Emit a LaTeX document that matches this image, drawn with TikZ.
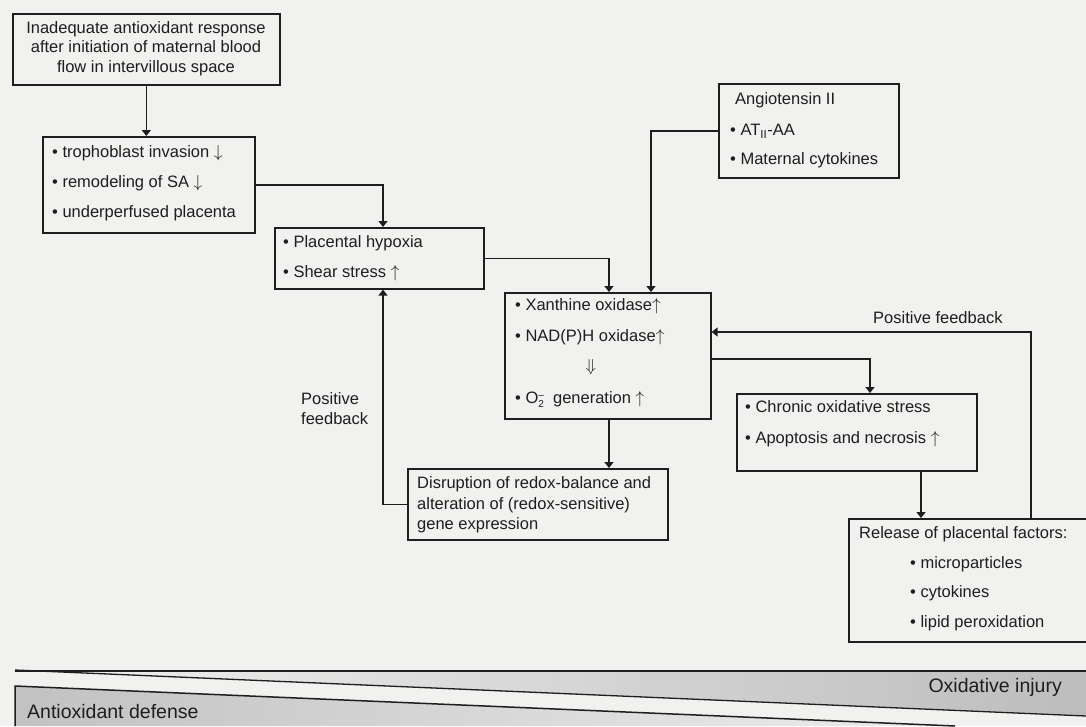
\documentclass[tikz,border=0pt]{standalone}
\usepackage{fontspec}
\setmainfont{Liberation Sans}
\usetikzlibrary{arrows.meta}
\definecolor{bg}{RGB}{241,241,240}
\definecolor{ink}{RGB}{30,30,30}
\newcommand{\fs}{\fontsize{16.5}{20}\selectfont}
\newcommand{\upa}{$\uparrow$}
\newcommand{\dna}{$\downarrow$}
\newcommand{\Otwo}{O\makebox[0pt][l]{\raisebox{-3.5pt}{\fontsize{10}{10}\selectfont 2}}\raisebox{5.5pt}{\fontsize{10}{10}\selectfont --}}
\tikzset{
  box/.style={draw=ink, line width=1.6pt, anchor=north west, inner sep=0pt},
  txt/.style={anchor=mid west, inner sep=0pt, font=\fs, text=ink},
  ctxt/.style={anchor=mid, inner sep=0pt, font=\fs, text=ink},
  arr/.style={draw=ink, line width=1.4pt, -{Triangle[length=6pt,width=9pt]}},
  barlab/.style={inner sep=0pt, font=\fontsize{19.5}{22}\selectfont, text=ink}
}
\begin{document}
\begin{tikzpicture}[x=1pt,y=-1pt]
\fill[bg] (0,0) rectangle (1086,726);
\useasboundingbox (0,0) rectangle (1086,726);
\clip (0,0) rectangle (1086,726);

% boxes
\node[box, minimum width=267pt, minimum height=71pt] (b1) at (12,13) {};
\node[box, minimum width=212pt, minimum height=96pt] (b2) at (42,136) {};
\node[box, minimum width=209pt, minimum height=61pt] (b3) at (274,227) {};
\node[box, minimum width=180pt, minimum height=94pt] (b4) at (718,83) {};
\node[box, minimum width=206pt, minimum height=126pt] (b5) at (504,292) {};
\node[box, minimum width=240pt, minimum height=77pt] (b6) at (736,393) {};
\node[box, minimum width=245pt, minimum height=123pt] (b7) at (848,518) {};
\node[box, minimum width=260pt, minimum height=71pt] (b8) at (407,468) {};

% texts
\node[ctxt] (t1a) at (146,31) {Inadequate antioxidant response};
\node[ctxt] (t1b) at (146,50) {after initiation of maternal blood};
\node[ctxt] (t1c) at (146,70) {flow in intervillous space};

\node[txt] (t2a) at (52,155) {• trophoblast invasion \dna};
\node[txt] (t2b) at (52,185) {• remodeling of SA \dna};
\node[txt] (t2c) at (52,215) {• underperfused placenta};

\node[txt] (t3a) at (283,245) {• Placental hypoxia};
\node[txt] (t3b) at (283,275) {• Shear stress \upa};

\node[txt] (t4a) at (735,102) {Angiotensin II};
\node[txt] (t4b) at (730,133) {• AT\textsubscript{II}-AA};
\node[txt] (t4c) at (730,162) {• Maternal cytokines};

\node[txt] (t5a) at (515,308) {• Xanthine oxidase\upa};
\node[txt] (t5b) at (515,339) {• NAD(P)H oxidase\upa};
\node[ctxt] (t5c) at (591,369) {$\Downarrow$};
\node[txt] (t5d) at (515,401) {• \Otwo\ \ generation \upa};

\node[txt] (t6a) at (745,410) {• Chronic oxidative stress};
\node[txt] (t6b) at (745,441) {• Apoptosis and necrosis \upa};

\node[txt] (t7a) at (859,536) {Release of placental factors:};
\node[txt] (t7b) at (910,566) {• microparticles};
\node[txt] (t7c) at (910,595) {• cytokines};
\node[txt] (t7d) at (910,625) {• lipid peroxidation};

\node[txt] (t8a) at (417,486) {Disruption of redox-balance and};
\node[txt] (t8b) at (417,507) {alteration of (redox-sensitive)};
\node[txt] (t8c) at (417,527) {gene expression};

\node[txt] (pf1a) at (301,402) {Positive};
\node[txt] (pf1b) at (301,422) {feedback};
\node[txt] (pf2) at (873,321) {Positive feedback};

% connectors
\coordinate (x383) at (383,0);
\coordinate (x609) at (609,0);
\coordinate (x651) at (651,0);
\coordinate (x870) at (870,0);
\coordinate (x921) at (921,0);
\coordinate (x1031) at (1031,0);
\coordinate (y359) at (0,359);
\coordinate (y332) at (0,332);

\draw[arr] (b1.south) -- (b2.north -| b1.south);
\draw[arr] (b2.east) -| (b3.north -| x383);
\draw[arr] (b3.east) -| (b5.north -| x609);
\draw[arr] (b4.west) -| (b5.north -| x651);
\draw[arr] (b5.south -| x609) -- (b8.north -| x609);
\draw[arr] (b8.west) -| (b3.south -| x383);
\draw[arr] (b5.east |- y359) -| (b6.north -| x870);
\draw[arr] (b6.south -| x921) -- (b7.north -| x921);
\draw[arr] (b7.north -| x1031) |- (b5.east |- y332);

% bottom bands
\shade[left color=bg, right color=black!26] (15,671) -- (1086,671) -- (1086,716) -- cycle;
\shade[left color=black!24, right color=black!7] (15,686) -- (955,726) -- (15,726) -- cycle;
\draw[ink, line width=1.5pt] (15,671) -- (1086,671);
\draw[ink, line width=1.3pt] (15,670) -- (1086,716);
\draw[ink, line width=1.5pt] (15,726) -- (15,686) -- (955,726);
\node[barlab, anchor=mid east] (oxi) at (1062,690) {Oxidative injury};
\node[barlab, anchor=mid west] (anti) at (27,716) {Antioxidant defense};
\end{tikzpicture}
\end{document}
